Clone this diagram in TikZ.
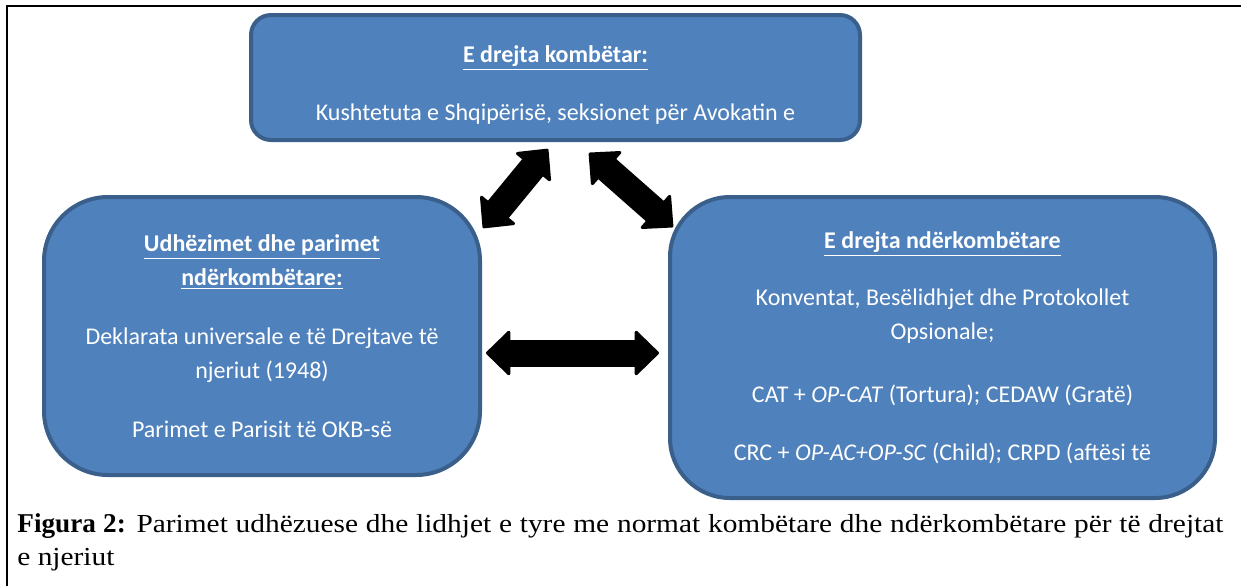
\documentclass[tikz,border=0pt]{standalone}
\usepackage{fontspec}
\setmainfont{Liberation Serif}
\newfontfamily\boxfont{Carlito}
\newfontfamily\capfont[FakeStretch=1.13]{Liberation Serif}
\newfontfamily\capbfont{Liberation Serif}
\usetikzlibrary{arrows.meta}
\definecolor{boxfill}{HTML}{4F81BD}
\definecolor{boxline}{HTML}{3A5F8B}
\begin{document}
\begin{tikzpicture}[x=0.5pt,y=-0.5pt,
  panel/.style={draw=boxline, line width=2pt, fill=boxfill, inner sep=0pt,
    text=white, font=\boxfont\fontsize{12}{17}\selectfont, align=center},
  blockarrow/.style={draw=black, line width=13.5pt,
    {Triangle[length=12.5pt,width=24pt,line width=1.5pt,round]}-{Triangle[length=12.5pt,width=24pt,line width=1.5pt,round]}},
  captext/.style={inner sep=0pt, font=\capfont\fontsize{13}{15.5}\selectfont}
]
\useasboundingbox (0,0) rectangle (1241,586);
% frame
\draw[line width=1.25pt] (1241,6) -- (7,6) -- (7,586);

% boxes
\node[panel, rounded corners=10pt, minimum width=304.5pt, minimum height=62.5pt] (top) at (555.5,77.5)
  {\rule{0pt}{15.5pt}\underline{\textbf{E drejta kombëtar:}}\\[12pt]
   Kushtetuta e Shqipërisë, seksionet për Avokatin e};

\node[panel, rounded corners=32pt, minimum width=218pt, minimum height=139pt] (left) at (262,336)
  {\underline{\textbf{Udhëzimet dhe parimet}}\\
   \underline{\textbf{ndërkombëtare:}}\\[12.5pt]
   Deklarata universale e të Drejtave të\\
   njeriut (1948)\\[12.5pt]
   Parimet e Parisit të OKB-së};

\node[panel, rounded corners=30pt, minimum width=272.5pt, minimum height=150.5pt] (right) at (942.5,347.5)
  {\underline{\textbf{E drejta ndërkombëtare}}\\[11.5pt]
   Konventat, Besëlidhjet dhe Protokollet\\
   Opsionale;\\[14.5pt]
   CAT + \textit{OP-CAT} (Tortura); CEDAW (Gratë)\\[12pt]
   CRC + \textit{OP-AC+OP-SC} (Child); CRPD (aftësi të};

% arrow end points
\coordinate (tlA) at (483,228);
\coordinate (tlB) at (548,149);
\coordinate (trA) at (589,153);
\coordinate (trB) at (673,227);
\coordinate (hA) at (486,353);
\coordinate (hB) at (659,353);
\draw[blockarrow] (tlA) -- (tlB);
\draw[blockarrow] (trA) -- (trB);
\draw[blockarrow] (hA) -- (hB);

% caption
\node[captext, anchor=base west] (cap1) at (17,532)
  {\makebox[603pt][s]{{\capbfont\bfseries\fontsize{13.6}{15.5}\selectfont Figura 2:} Parimet udhëzuese dhe lidhjet e tyre me normat kombëtare dhe ndërkombëtare për të drejtat}};
\node[captext, anchor=base west] (cap2) at (17,565) {e njeriut};
\end{tikzpicture}
\end{document}
